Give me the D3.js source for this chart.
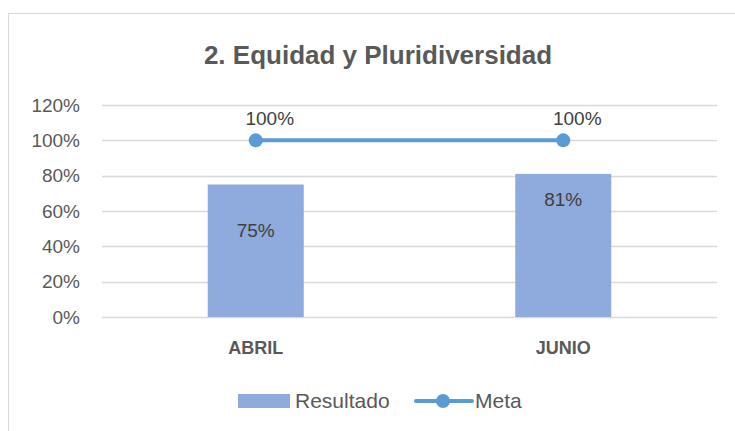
<!DOCTYPE html>
<html>
  <head>
    <meta charset="utf-8">
    <title>Equidad y Pluridiversidad</title>
    <script src="https://d3js.org/d3.v7.min.js"></script>
    <style>
      body { margin: 0; background: #fff; }
      text { font-family: "Liberation Sans", Arial, sans-serif; fill: #595959; }
    </style>
  </head>
  <body>
    <script>
      // chart data
      const months = ["ABRIL", "JUNIO"];
      const resultado = [0.75, 0.81];
      const meta = [1.0, 1.0];
      const yTicks = [0, 0.2, 0.4, 0.6, 0.8, 1.0, 1.2];
      const title = "2. Equidad y Pluridiversidad";

      const W = 735, H = 431;
      const svg = d3.select("body").append("svg")
          .attr("width", W)
          .attr("height", H);

      // chart frame
      svg.append("rect")
          .attr("x", 8.5).attr("y", 13.5)
          .attr("width", 740).attr("height", 440)
          .style("fill", "none")
          .style("stroke", "#d9d9d9");

      // title
      svg.append("text")
          .attr("x", 378).attr("y", 64)
          .attr("text-anchor", "middle")
          .style("font-size", "26px")
          .style("font-weight", "bold")
          .text(title);

      const x = d3.scaleBand()
          .domain(months)
          .range([102, 717]);
      const y = d3.scaleLinear()
          .domain([0, 1.2])
          .range([317, 105]);

      // gridlines
      svg.append("g")
        .selectAll("line")
        .data(yTicks)
        .join("line")
          .attr("x1", 102).attr("x2", 717)
          .attr("y1", d => Math.round(y(d)) + 0.5)
          .attr("y2", d => Math.round(y(d)) + 0.5)
          .style("stroke", "#d9d9d9")
          .style("stroke-width", 1.5);

      // y axis labels
      const yAxis = svg.append("g")
          .attr("transform", "translate(80,0)")
          .call(d3.axisLeft(y).tickValues(yTicks).tickFormat(d3.format(".0%")).tickSize(0).tickPadding(0));
      yAxis.select(".domain").remove();
      yAxis.selectAll("text")
          .style("font-size", "19px")
          .style("font-family", "'Liberation Sans', Arial, sans-serif")
          .attr("fill", "#595959");

      // x axis labels
      const xAxis = svg.append("g")
          .attr("transform", "translate(0,341)")
          .call(d3.axisBottom(x).tickSize(0).tickPadding(0));
      xAxis.select(".domain").remove();
      xAxis.selectAll("text")
          .style("font-size", "18px")
          .style("font-weight", "bold")
          .style("font-family", "'Liberation Sans', Arial, sans-serif")
          .attr("fill", "#595959")
          .attr("dy", "0.71em");

      // bars
      const barW = 96;
      const cx = d => x(d) + x.bandwidth() / 2;
      svg.append("g")
        .selectAll("rect")
        .data(months)
        .join("rect")
          .attr("x", d => cx(d) - barW / 2)
          .attr("y", (d, i) => y(resultado[i]))
          .attr("width", barW)
          .attr("height", (d, i) => y(0) - y(resultado[i]))
          .style("fill", "#8faadc");

      // bar labels (placed as in the reference)
      const labelDrop = [46, 25];
      svg.append("g")
        .selectAll("text")
        .data(months)
        .join("text")
          .attr("x", d => cx(d))
          .attr("y", (d, i) => y(resultado[i]) + labelDrop[i])
          .attr("dy", "0.35em")
          .attr("text-anchor", "middle")
          .style("font-size", "19px")
          .style("fill", "#404040")
          .text((d, i) => d3.format(".0%")(resultado[i]));

      // meta line
      const line = d3.line()
          .x((d, i) => cx(months[i]))
          .y(d => y(d));
      svg.append("path")
          .datum(meta)
          .attr("d", line)
          .style("fill", "none")
          .style("stroke", "#5b9bd5")
          .style("stroke-width", 4);
      svg.append("g")
        .selectAll("circle")
        .data(meta)
        .join("circle")
          .attr("cx", (d, i) => cx(months[i]))
          .attr("cy", d => y(d))
          .attr("r", 7)
          .style("fill", "#5b9bd5");
      svg.append("g")
        .selectAll("text")
        .data(meta)
        .join("text")
          .attr("x", (d, i) => cx(months[i]) + 14)
          .attr("y", d => y(d) - 22)
          .attr("dy", "0.35em")
          .attr("text-anchor", "middle")
          .style("font-size", "19px")
          .style("fill", "#404040")
          .text(d => d3.format(".0%")(d));

      // legend
      const lg = svg.append("g");
      lg.append("rect")
          .attr("x", 238).attr("y", 394)
          .attr("width", 52).attr("height", 14)
          .style("fill", "#8faadc");
      lg.append("text")
          .attr("x", 295).attr("y", 401)
          .attr("dy", "0.35em")
          .style("font-size", "21px")
          .text("Resultado");
      lg.append("line")
          .attr("x1", 416).attr("x2", 472)
          .attr("y1", 401).attr("y2", 401)
          .style("stroke", "#5b9bd5")
          .style("stroke-width", 4)
          .style("stroke-linecap", "round");
      lg.append("circle")
          .attr("cx", 443).attr("cy", 401).attr("r", 7)
          .style("fill", "#5b9bd5");
      lg.append("text")
          .attr("x", 475).attr("y", 401)
          .attr("dy", "0.35em")
          .style("font-size", "21px")
          .text("Meta");
    </script>
  </body>
</html>
